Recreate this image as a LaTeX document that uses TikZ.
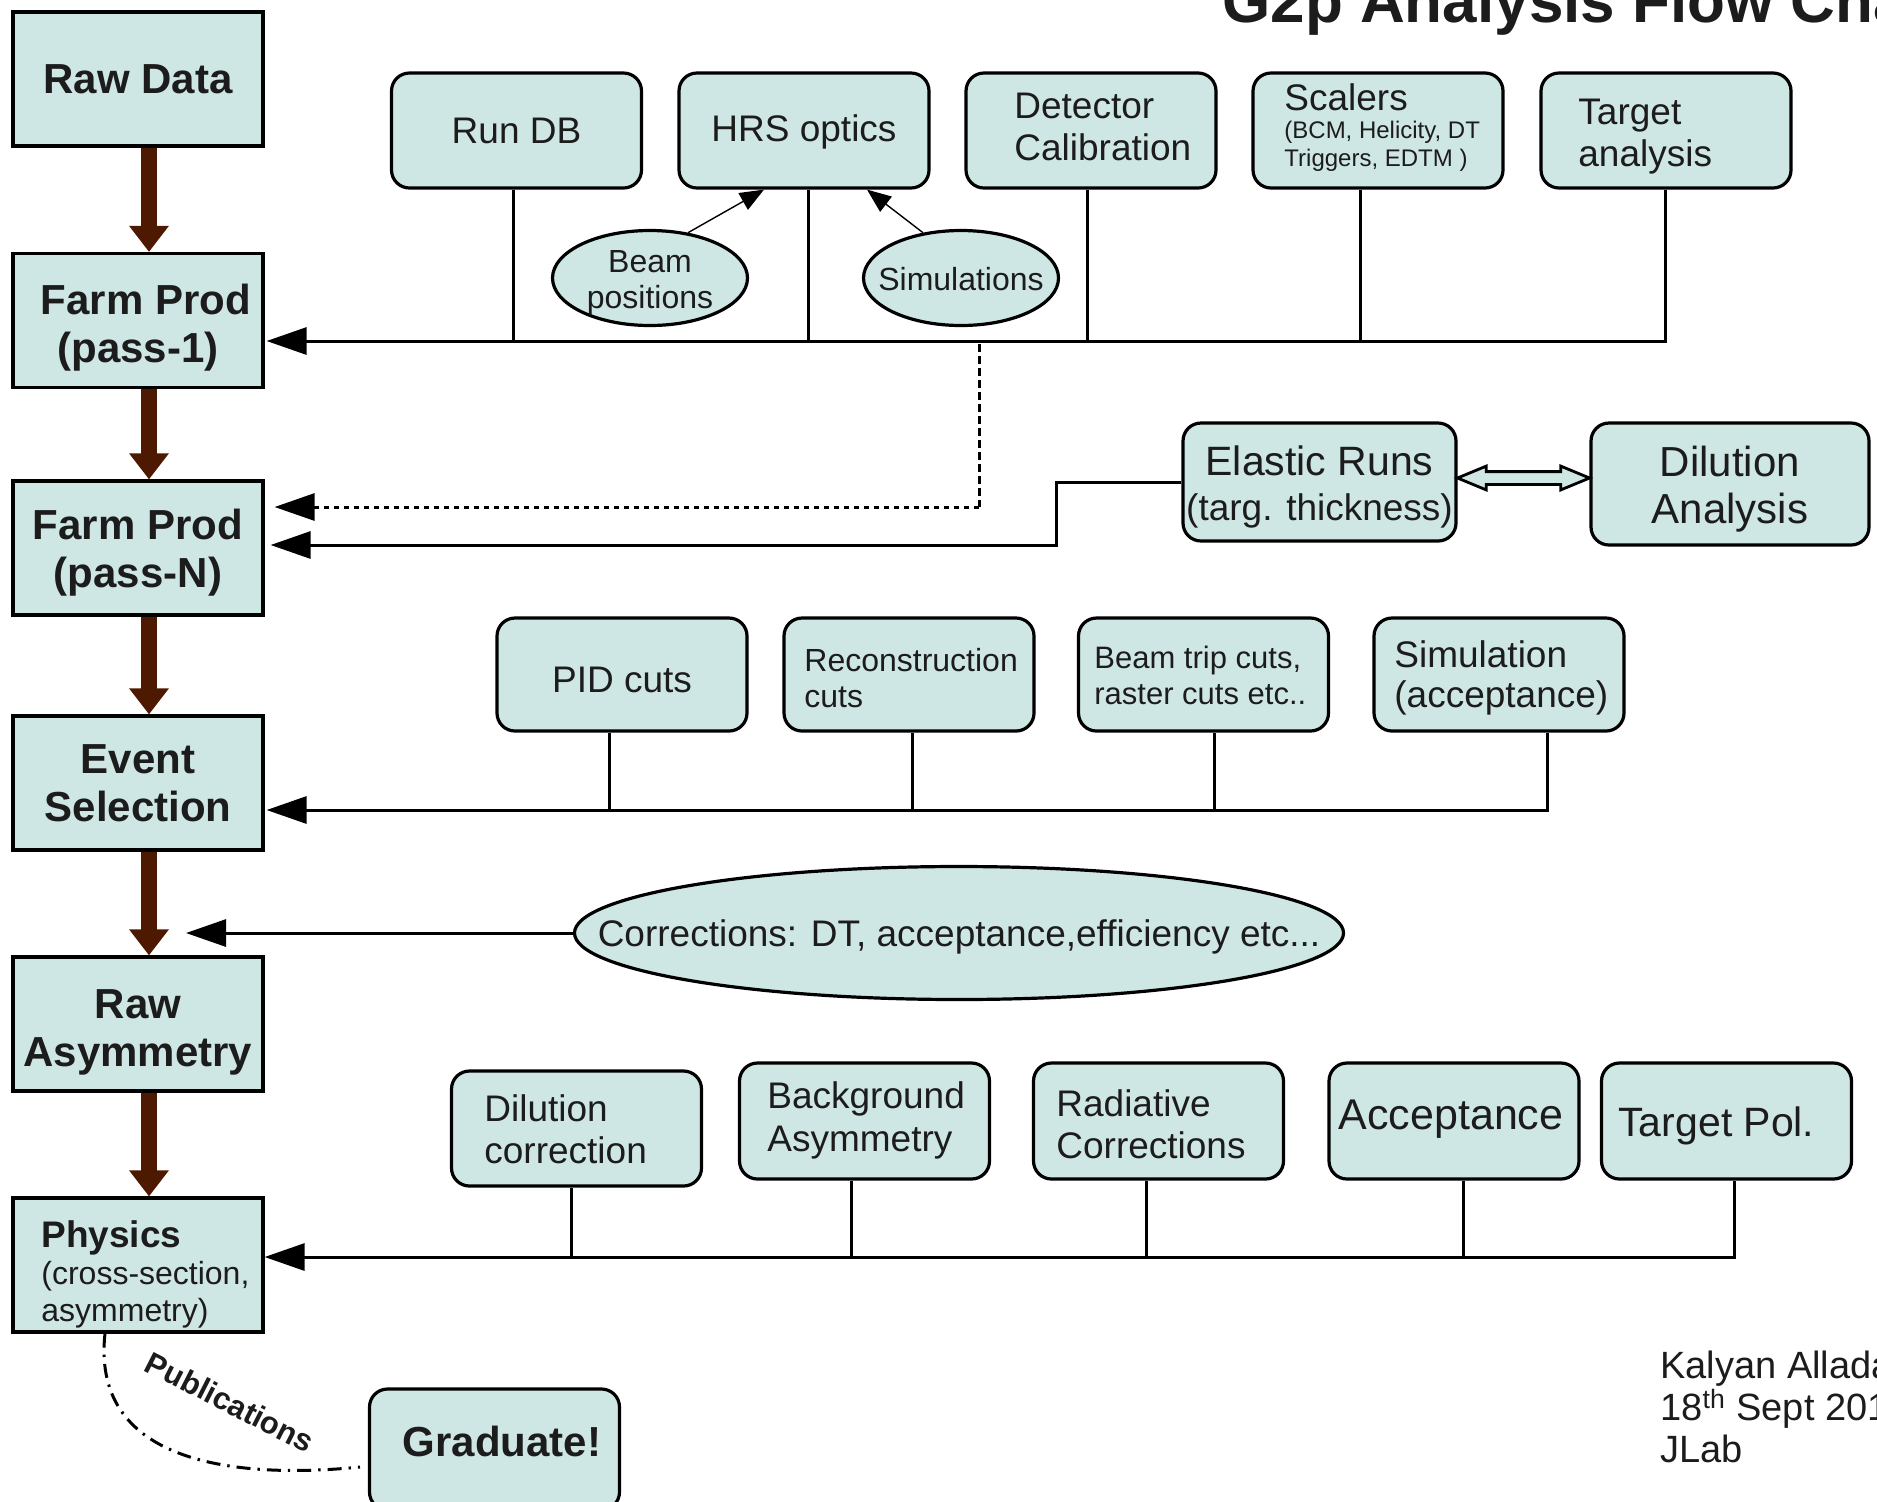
\documentclass[tikz,border=0pt]{standalone}
\usepackage{fontspec}
\setmainfont{Liberation Sans}
\usetikzlibrary{arrows.meta,shapes.geometric,shapes.arrows}
\definecolor{boxfill}{RGB}{207,231,228}
\definecolor{ink}{RGB}{28,28,28}
\definecolor{brownarr}{RGB}{77,25,0}
\newcommand\fsz[2]{\fontsize{#1}{#2}\selectfont}
\begin{document}
\begin{tikzpicture}[x=0.5pt,y=-0.5pt,
  txt/.style={inner sep=0pt, text=ink, align=left},
  ctr/.style={inner sep=0pt, text=ink, align=center},
  sqbox/.style={draw=black, line width=1.6pt, fill=boxfill, minimum width=125pt, minimum height=67pt, inner sep=0pt, align=center, text=ink, font=\bfseries\fsz{21}{24}},
  rbox/.style={draw=black, line width=1.6pt, fill=boxfill, rounded corners=9pt, minimum width=125pt, minimum height=57.5pt, inner sep=0pt, align=center, text=ink, font=\fsz{18.5}{21}},
  oval/.style={ellipse, draw=black, line width=1.6pt, fill=boxfill, inner sep=0pt},
  conn/.style={draw=black, line width=1.5pt},
  bushead/.style={-{Triangle[length=20pt,width=13.5pt]}},
  thinarr/.style={draw=black, line width=0.7pt, -{Triangle[length=12pt,width=9.5pt]}},
  bigarr/.style={draw=brownarr, line width=8pt, -{Triangle[length=13pt,width=19pt]}}
]
\useasboundingbox (0,0) rectangle (1877,1501);

% title
\node[txt, anchor=base west, font=\bfseries\fsz{31}{36}] (title) at (1222,22) {G2p Analysis Flow Chart};

% left column
\node[sqbox] (raw) at (138,79) {Raw Data};
\node[sqbox] (pass1) at (138,320.5) {};
\node[ctr, font=\bfseries\fsz{21}{24}] (pass1t) at (138,327.5) {\hspace*{8pt}Farm Prod\\(pass-1)};
\node[sqbox] (passN) at (138,548) {};
\node[ctr, font=\bfseries\fsz{21}{24}] (passNt) at (138,553) {Farm Prod\\(pass-N)};
\node[sqbox] (event) at (138,783) {Event\\Selection};
\node[sqbox] (rasym) at (138,1024) {};
\node[ctr, font=\bfseries\fsz{21}{24}] (rasymt) at (138,1032) {Raw\\Asymmetry};
\node[sqbox] (phys) at (138,1265) {};
\node[txt, anchor=west, font=\fsz{16}{18.5}] (physt) at (41,1274) {{\bfseries\fsz{18.5}{19}Physics}\\(cross-section,\\asymmetry)};

\foreach \a/\b in {raw/pass1, pass1/passN, passN/event, event/rasym, rasym/phys}
  \draw[bigarr] ([xshift=5.5pt]\a.south) -- ([xshift=5.5pt]\b.north);

% row 1
\node[rbox] (rundb) at (516.5,130.5) {Run DB};
\node[rbox] (hrs) at (804,130.5) {};
\node[ctr, font=\fsz{18.5}{21}] (hrst) at (804,132) {HRS optics};
\node[rbox] (det) at (1091,130.5) {};
\node[txt, anchor=west, font=\fsz{18.5}{21}] (dett) at (1014,127) {Detector\\Calibration};
\node[rbox] (scal) at (1378,130.5) {};
\node[txt, anchor=west, font=\fsz{12}{14}] (scalt) at (1284,128) {{\fsz{18.5}{14}Scalers}\\(BCM, Helicity, DT\\Triggers, EDTM )};
\node[rbox] (targ) at (1666,130.5) {};
\node[txt, anchor=west, font=\fsz{18.5}{21}] (targt) at (1578,137) {Target\\analysis};

\node[oval, minimum width=97.5pt, minimum height=47.5pt] (beam) at (650,278) {};
\node[ctr, font=\fsz{16}{18}] (beamt) at (650,283) {Beam\\positions};
\node[oval, minimum width=97.5pt, minimum height=47.5pt] (sim) at (961,278) {};
\node[txt, font=\fsz{16}{18}] (simt) at (961,279) {Simulations};
\draw[thinarr] (beam.50) -- ([xshift=-20pt]hrs.south);
\draw[thinarr] (sim.130) -- ([xshift=31.5pt]hrs.south);

\coordinate (b1a) at (513,341);
\coordinate (b1b) at (808,341);
\coordinate (b1c) at (1087,341);
\coordinate (b1d) at (1360,341);
\coordinate (b1e) at (1665,341);
\draw[conn] (rundb.south -| b1a) -- (b1a);
\draw[conn] (hrs.south -| b1b) -- (b1b);
\draw[conn] (det.south -| b1c) -- (b1c);
\draw[conn] (scal.south -| b1d) -- (b1d);
\draw[conn, bushead, shorten >=1pt] (targ.south -| b1e) -- (b1e) -- (pass1.east |- b1e);

% dashed feedback
\coordinate (d0) at (979,344);
\coordinate (d1) at (979,507);
\draw[line width=1.5pt, dash pattern=on 4pt off 2pt] (d0) -- (d1);
\draw[line width=1.5pt, dash pattern=on 2.5pt off 2.5pt, bushead, shorten >=5pt] (d1) -- (passN.east |- d1);

% elastic / dilution
\node[rbox, minimum width=136.5pt, minimum height=59pt] (elastic) at (1319.5,482) {};
\node[ctr, font=\fsz{18.5}{22.5}] (elastict) at (1319.5,487) {{\fsz{20.5}{22.5}Elastic Runs}\\(targ. thickness)};
\node[rbox, minimum width=139pt, minimum height=61pt] (dil) at (1730,484) {};
\node[ctr, font=\fsz{21}{23.5}] (dilt) at (1730,489) {Dilution\\Analysis};
\node[double arrow, draw=black, line width=1.4pt, fill=boxfill, minimum height=66pt, inner xsep=0pt, inner ysep=2.5pt, double arrow head extend=2.75pt, double arrow tip angle=45, double arrow head indent=0pt] (dbl) at (1523.5,478) {};
\coordinate (e1) at (1056,545);
\draw[conn, bushead, shorten >=3pt] (elastic.west) -| (e1) -- (passN.east |- e1);

% row 2
\node[rbox, minimum height=56.5pt] (pid) at (622,674.5) {};
\node[ctr, font=\fsz{18.5}{21}] (pidt) at (622,679.5) {PID cuts};
\node[rbox, minimum height=56.5pt] (reco) at (909,674.5) {};
\node[txt, anchor=west, font=\fsz{16}{18}] (recot) at (804,678) {Reconstruction\\cuts};
\node[rbox, minimum height=56.5pt] (trip) at (1203.5,674.5) {};
\node[txt, anchor=west, font=\fsz{15.5}{18}] (tript) at (1094,675) {Beam trip cuts,\\raster cuts etc..};
\node[rbox, minimum height=56.5pt] (simacc) at (1499,674.5) {};
\node[txt, anchor=west, font=\fsz{18.5}{20}] (simacct) at (1394,678) {Simulation\\(acceptance)};
\coordinate (b2a) at (609,810);
\coordinate (b2b) at (912,810);
\coordinate (b2c) at (1214,810);
\coordinate (b2d) at (1547,810);
\draw[conn] (pid.south -| b2a) -- (b2a);
\draw[conn] (reco.south -| b2b) -- (b2b);
\draw[conn] (trip.south -| b2c) -- (b2c);
\draw[conn, bushead, shorten >=1pt] (simacc.south -| b2d) -- (b2d) -- (event.east |- b2d);

% corrections
\node[oval, minimum width=384.5pt, minimum height=66.5pt] (corr) at (959,933) {};
\node[txt, font=\fsz{18.5}{21}] (corrt) at (959,937) {Corrections: DT, acceptance,efficiency etc...};
\coordinate (ctip) at (186,930);
\draw[conn, bushead] (corr.west) -- (corr.west -| ctip);

% row 3
\node[rbox] (dilc) at (576.5,1128.5) {};
\node[txt, anchor=west, font=\fsz{18.5}{21}] (dilct) at (484,1129) {Dilution\\correction};
\node[rbox, minimum height=58pt] (bkg) at (864.5,1121) {};
\node[txt, anchor=west, font=\fsz{18.5}{21.5}] (bkgt) at (767,1120) {Background\\Asymmetry};
\node[rbox, minimum height=58pt] (rad) at (1158.5,1121) {};
\node[txt, anchor=west, font=\fsz{18.5}{21}] (radt) at (1056,1124) {Radiative\\Corrections};
\node[rbox, minimum height=58pt] (acc) at (1454,1121) {};
\node[ctr, font=\fsz{21.5}{24}] (acct) at (1451,1119) {Acceptance};
\node[rbox, minimum height=58pt] (tpol) at (1726.5,1121) {};
\node[txt, anchor=west, font=\fsz{20.5}{23}] (tpolt) at (1618,1126) {Target Pol.};
\coordinate (b3a) at (571,1257);
\coordinate (b3b) at (851,1257);
\coordinate (b3c) at (1146,1257);
\coordinate (b3d) at (1463,1257);
\coordinate (b3e) at (1734,1257);
\draw[conn] (dilc.south -| b3a) -- (b3a);
\draw[conn] (bkg.south -| b3b) -- (b3b);
\draw[conn] (rad.south -| b3c) -- (b3c);
\draw[conn] (acc.south -| b3d) -- (b3d);
\draw[conn, bushead] (tpol.south -| b3e) -- (b3e) -- (phys.east |- b3e);

% graduate
\node[rbox, minimum height=60.5pt] (grad) at (494.5,1449.5) {};
\node[ctr, font=\bfseries\fsz{21}{24}] (gradt) at (502,1441) {Graduate!};
\node[txt, rotate=-27, font=\bfseries\fsz{15.5}{18}] (pubt) at (230,1402) {Publications};
\coordinate (p0) at (105,1337);
\coordinate (p1) at (360,1467);
\draw[line width=1.5pt, dash pattern=on 7pt off 3.5pt on 1.2pt off 3.5pt] (phys.south -| p0) .. controls (90,1470) and (250,1478) .. (p1);

% footer
\node[txt, anchor=north west, font=\fsz{19}{21}] (author) at (1660,1351) {Kalyan Allada\\18\textsuperscript{th} Sept 2012\\JLab};
\end{tikzpicture}
\end{document}
